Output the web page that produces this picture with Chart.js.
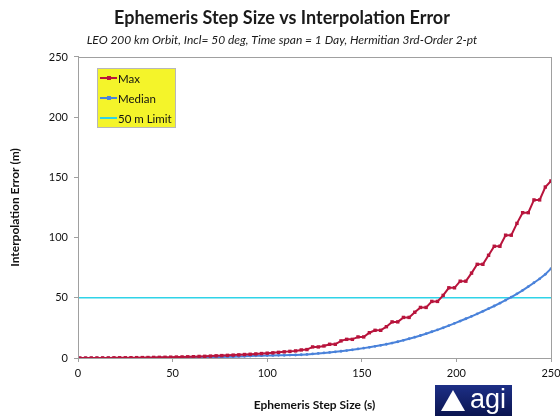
<!DOCTYPE html>
<html>
<head>
<meta charset="utf-8">
<script src="https://cdn.jsdelivr.net/npm/chart.js@4.4.0/dist/chart.umd.min.js"></script>
<style>
  html, body { margin: 0; padding: 0; background: #fff; }
  #wrap { position: relative; width: 560px; height: 416px; }
  #logo {
    position: absolute; left: 435px; top: 385px; width: 77px; height: 31px;
    background: linear-gradient(180deg, #1d2f86 0%, #0b1550 100%);
    color: #fff; font-family: 'Liberation Sans', sans-serif; font-size: 27px;
    line-height: 29px; text-align: right; padding-right: 6px; box-sizing: border-box;
  }
  #logo .tri {
    position: absolute; left: 6px; top: 5px; width: 0; height: 0;
    border-left: 12px solid transparent; border-right: 12px solid transparent;
    border-bottom: 21px solid #fff;
  }
</style>
</head>
<body>
<div id="wrap">
  <canvas id="myChart" width="560" height="416"></canvas>
  <div id="logo"><span class="tri"></span>agi</div>
</div>
<script>
const ctx = document.getElementById('myChart');

// step sizes (s)
const stepSizes = [1,4,7,10,13,16,19,22,25,28,31,34,37,40,43,46,49,52,55,58,61,64,67,70,73,76,79,82,85,88,
  91,94,97,100,103,106,109,112,115,118,121,124,127,130,133,136,139,142,145,148,151,154,157,160,163,166,169,172,175,178,
  181,184,187,190,193,196,199,202,205,208,211,214,217,220,223,226,229,232,235,238,241,244,247,250];

// max interpolation error (m)
const maxErr = [0,0,0.05,0.05,0.1,0.1,0.15,0.2,0.2,0.25,0.3,0.35,0.4,0.5,0.55,0.6,0.7,0.8,0.9,1.0,
  1.1,1.3,1.4,1.6,1.8,2.0,2.2,2.4,2.6,2.9,3.1,3.4,3.7,4.0,4.3,4.7,5.1,5.5,5.9,
  6.7,7.0,9.2,9.2,10,11.4,11.4,14.2,15.5,15.5,17.5,17.5,21,23,23,26,30,30,33.7,33.7,
  38,42,42,47,47,52,58.3,58.3,63.8,63.8,70.5,77.8,77.8,85.3,92.8,92.8,102,102,111.8,120.7,
  120.7,131.3,131.3,142,147];

// median interpolation error (m)
const medianErr = [0,0,0,0,0,0,0,0.05,0.05,0.05,0.1,0.1,0.1,0.15,0.2,0.2,0.25,0.3,0.35,0.4,
  0.45,0.5,0.6,0.7,0.8,0.9,1.0,1.1,1.3,1.4,1.6,1.8,1.9,
  2.0,2.1,2.2,2.3,2.4,2.5,2.7,3.0,3.4,3.8,4.2,4.6,5.1,5.6,6.2,6.8,7.5,8.2,8.9,9.7,
  10.5,11.4,12.4,13.5,14.7,16.0,17.3,18.7,20.2,21.8,23.4,25.1,26.9,28.8,30.7,32.6,34.6,36.7,38.8,41.0,
  43.2,45.5,48.0,50.6,53.3,56.2,59.3,62.5,65.8,69.5,74.2];

// 50 m limit
const limitX = [0, 250];
const limitY = [50, 50];

const xTicks = [0, 50, 100, 150, 200, 250];
const yTicks = [0, 50, 100, 150, 200, 250];

const fontFam = "Lato, 'Liberation Sans', sans-serif";

// plot border + yellow legend box
const frameAndLegend = {
  id: 'frameAndLegend',
  afterDatasetsDraw(chart) {
    const c = chart.ctx, a = chart.chartArea;
    c.save();
    c.strokeStyle = '#a0a0a0';
    c.lineWidth = 1;
    c.strokeRect(a.left + 0.5, a.top + 0.5, a.right - a.left, a.bottom - a.top);

    // legend
    const bx = 97, by = 68, bw = 78, bh = 59;
    c.fillStyle = '#f4f42a';
    c.fillRect(bx, by, bw, bh);
    c.strokeStyle = '#b8b8b8';
    c.strokeRect(bx + 0.5, by + 0.5, bw, bh);
    c.font = "11.5px " + fontFam;
    c.textBaseline = 'middle';
    chart.data.datasets.forEach((ds, i) => {
      const y = by + 10 + i * 20;
      c.strokeStyle = ds.borderColor;
      c.lineWidth = 2;
      c.beginPath();
      c.moveTo(bx + 3, y);
      c.lineTo(bx + 20, y);
      c.stroke();
      if (ds.pointRadius > 0) {
        c.fillStyle = ds.borderColor;
        c.fillRect(bx + 10, y - 2, 4, 4);
      }
      c.fillStyle = '#111';
      c.fillText(ds.label, bx + 21, y + 1);
    });
    c.restore();
  }
};

new Chart(ctx, {
  type: 'line',
  data: {
    datasets: [{
      label: 'Max',
      data: stepSizes.map((s, i) => ({x: s, y: maxErr[i]})),
      borderColor: '#b8143c',
      backgroundColor: '#b8143c',
      borderWidth: 2,
      pointStyle: 'rect',
      pointRadius: 2.4,
      pointBorderWidth: 0,
    }, {
      label: 'Median',
      data: stepSizes.map((s, i) => ({x: s, y: medianErr[i]})),
      borderColor: '#4a82da',
      backgroundColor: '#4a82da',
      borderWidth: 2,
      pointRadius: 1.4,
      pointBorderWidth: 0,
    }, {
      label: '50 m Limit',
      data: limitX.map((s, i) => ({x: s, y: limitY[i]})),
      borderColor: '#2fd3e8',
      backgroundColor: '#2fd3e8',
      borderWidth: 1.5,
      pointRadius: 0,
    }]
  },
  options: {
    responsive: false,
    animation: false,
    layout: { padding: { left: 4, right: 0, top: 0, bottom: 0 } },
    plugins: {
      legend: { display: false },
      tooltip: { enabled: false },
      title: {
        display: true,
        text: 'Ephemeris Step Size vs Interpolation Error',
        color: '#1a1a1a',
        font: { family: fontFam, size: 18, weight: 'bold' },
        padding: { top: 7, bottom: 4 }
      },
      subtitle: {
        display: true,
        text: 'LEO 200 km Orbit, Incl= 50 deg, Time span = 1 Day, Hermitian 3rd-Order 2-pt',
        color: '#1a1a1a',
        font: { family: fontFam, size: 12, style: 'italic' },
        padding: { top: 0, bottom: 10 }
      }
    },
    scales: {
      x: {
        type: 'linear',
        min: 0, max: 250,
        afterBuildTicks: (s) => { s.ticks = xTicks.map(v => ({value: v})); },
        afterFit: (s) => { s.height = 58; s.paddingRight = 9; s.paddingLeft = 0; },
        grid: { drawOnChartArea: false, tickLength: 4, color: '#a0a0a0' },
        border: { color: '#a0a0a0' },
        ticks: { color: '#111', padding: 5, maxRotation: 0, font: { family: fontFam, size: 11 } },
        title: {
          display: true, text: 'Ephemeris Step Size (s)', color: '#111',
          font: { family: fontFam, size: 12, weight: 'bold' }, padding: { top: 12 }
        }
      },
      y: {
        min: 0, max: 250,
        afterBuildTicks: (s) => { s.ticks = yTicks.map(v => ({value: v})); },
        afterFit: (s) => { s.width = 74; },
        grid: { drawOnChartArea: false, tickLength: 4, color: '#a0a0a0' },
        border: { color: '#a0a0a0' },
        ticks: { color: '#111', padding: 6, font: { family: fontFam, size: 11 } },
        title: {
          display: true, text: 'Interpolation Error (m)', color: '#111',
          font: { family: fontFam, size: 12, weight: 'bold' }, padding: { bottom: 6 }
        }
      }
    }
  },
  plugins: [frameAndLegend]
});
</script>
</body>
</html>
